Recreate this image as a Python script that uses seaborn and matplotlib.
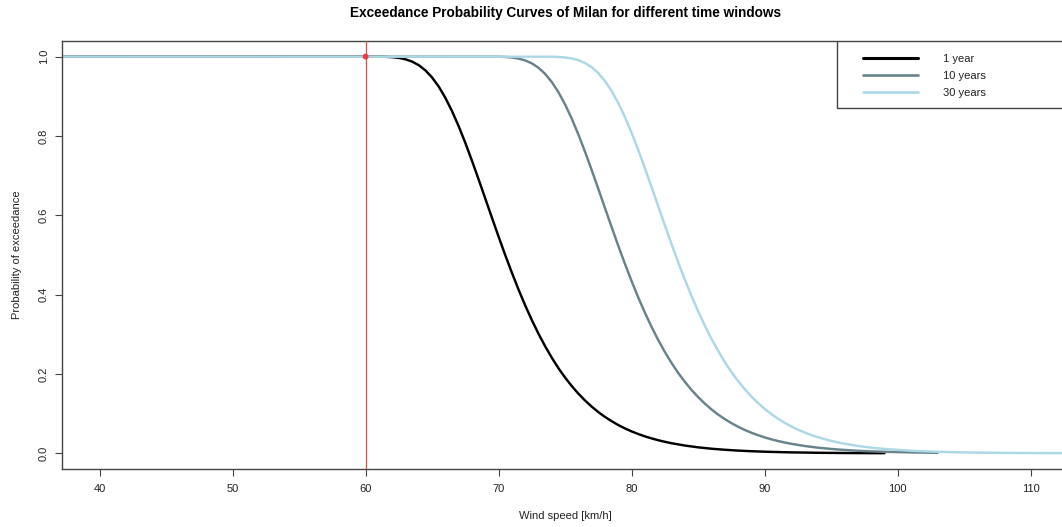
import matplotlib
matplotlib.use("Agg")
import matplotlib.pyplot as plt
import pandas as pd
import seaborn as sns
from matplotlib.patches import Rectangle
from matplotlib.lines import Line2D

# ---------------- data ----------------
speed_1yr = [36, 61, 61.5, 62, 62.5, 63, 63.5, 64, 64.5, 65, 65.5, 66, 66.5, 67, 67.5, 68,
             68.5, 69, 69.5, 70, 70.5, 71, 71.5, 72, 72.5, 73, 73.5, 74, 74.5, 75, 75.5,
             76, 76.5, 77, 77.5, 78, 78.5, 79, 79.5, 80, 80.5, 81, 81.5, 82, 82.5, 83,
             84, 85, 86, 87, 88, 89, 90, 91, 92, 93, 94, 95, 96, 97, 98, 99]
prob_1yr = [1.0, 0.9998, 0.9994, 0.9985, 0.9966, 0.9931, 0.9873, 0.9782, 0.9651, 0.9472,
            0.9242, 0.8957, 0.8622, 0.8241, 0.7821, 0.7370, 0.6899, 0.6418, 0.5935, 0.5457,
            0.4993, 0.4548, 0.4124, 0.3726, 0.3355, 0.3012, 0.2696, 0.2407, 0.2144, 0.1908,
            0.1694, 0.1502, 0.1330, 0.1176, 0.1038, 0.0916, 0.0809, 0.0712, 0.0627, 0.0552,
            0.0486, 0.0427, 0.0376, 0.0330, 0.0290, 0.0255, 0.0196, 0.0151, 0.0116, 0.0090,
            0.0069, 0.0053, 0.0041, 0.0032, 0.0024, 0.0019, 0.0014, 0.0011, 0.0008, 0.0006,
            0.0005, 0.0004]

speed_10yr = [36, 70, 70.5, 71, 71.5, 72, 72.5, 73, 73.5, 74, 74.5, 75, 75.5, 76, 76.5, 77,
              77.5, 78, 78.5, 79, 79.5, 80, 80.5, 81, 81.5, 82, 82.5, 83, 83.5, 84, 84.5,
              85, 85.5, 86, 86.5, 87, 87.5, 88, 88.5, 89, 89.5, 90, 90.5, 91, 91.5,
              92, 93, 94, 95, 96, 97, 98, 99, 100, 101, 102, 103]
prob_10yr = [1.0, 0.9996, 0.9990, 0.9976, 0.9949, 0.9902, 0.9828, 0.9717, 0.9562, 0.9357,
             0.9100, 0.8790, 0.8432, 0.8031, 0.7596, 0.7135, 0.6659, 0.6177, 0.5696, 0.5225,
             0.4771, 0.4336, 0.3925, 0.3541, 0.3184, 0.2854, 0.2552, 0.2276, 0.2026, 0.1801,
             0.1598, 0.1416, 0.1253, 0.1107, 0.0977, 0.0863, 0.0761, 0.0670, 0.0590, 0.0519,
             0.0457, 0.0402, 0.0353, 0.0310, 0.0273, 0.0240, 0.0185, 0.0142, 0.0110, 0.0085,
             0.0065, 0.0050, 0.0039, 0.0030, 0.0023, 0.0018, 0.0013]

speed_30yr = [36, 74, 74.5, 75, 75.5, 76, 76.5, 77, 77.5, 78, 78.5, 79, 79.5, 80, 80.5, 81,
              81.5, 82, 82.5, 83, 83.5, 84, 84.5, 85, 85.5, 86, 86.5, 87, 87.5, 88, 88.5,
              89, 89.5, 90, 90.5, 91, 91.5, 92, 92.5, 93, 93.5, 94, 94.5, 95, 95.5,
              96, 97, 98, 99, 100, 101, 102, 103, 104, 105, 106, 108, 110, 114]
prob_30yr = [1.0, 0.9996, 0.9990, 0.9977, 0.9952, 0.9908, 0.9837, 0.9730, 0.9579, 0.9380,
             0.9128, 0.8823, 0.8470, 0.8073, 0.7641, 0.7182, 0.6707, 0.6225, 0.5744, 0.5271,
             0.4815, 0.4378, 0.3965, 0.3578, 0.3218, 0.2886, 0.2580, 0.2302, 0.2050, 0.1822,
             0.1617, 0.1433, 0.1268, 0.1121, 0.0989, 0.0873, 0.0770, 0.0678, 0.0597, 0.0526,
             0.0462, 0.0407, 0.0358, 0.0314, 0.0276, 0.0243, 0.0187, 0.0144, 0.0111, 0.0086,
             0.0066, 0.0051, 0.0039, 0.0030, 0.0023, 0.0018, 0.0011, 0.0007, 0.0003]

series_labels = ["1 year", "10 years", "30 years"]
series_colors = ["#000000", "#68838C", "#ADD8E6"]

threshold_speed = 60
threshold_prob = 1.0

x_ticks = [40, 50, 60, 70, 80, 90, 100, 110]
y_ticks = [0.0, 0.2, 0.4, 0.6, 0.8, 1.0]

title = "Exceedance Probability Curves of Milan for different time windows"
x_label = "Wind speed [km/h]"
y_label = "Probability of exceedance"

# ---------------- styling ----------------
sns.set_theme(style="white")
plt.rcParams['font.family'] = ['Liberation Sans', 'DejaVu Sans']

W, H = 1062, 527
fig = plt.figure(figsize=(W / 100, H / 100), dpi=100)
fig.patch.set_facecolor("white")

ax_l, ax_r, ax_t, ax_b = 62.3, 1068.0, 40.7, 469.2
ax = fig.add_axes([ax_l / W, (H - ax_b) / H, (ax_r - ax_l) / W, (ax_b - ax_t) / H])
ax.set_facecolor("white")

df = pd.concat([
    pd.DataFrame({"speed": speed_1yr, "prob": prob_1yr, "series": series_labels[0]}),
    pd.DataFrame({"speed": speed_10yr, "prob": prob_10yr, "series": series_labels[1]}),
    pd.DataFrame({"speed": speed_30yr, "prob": prob_30yr, "series": series_labels[2]}),
], ignore_index=True)

sns.lineplot(data=df, x="speed", y="prob", hue="series", hue_order=series_labels,
             palette=dict(zip(series_labels, series_colors)), estimator=None,
             linewidth=1.75, legend=False, ax=ax, zorder=2)

ax.axvline(threshold_speed, color="#F04848", lw=0.9, zorder=3)
sns.scatterplot(x=[threshold_speed], y=[threshold_prob], color="#F03C3C", s=18,
                edgecolor="none", ax=ax, zorder=4)

ax.set_xlim(37.2, 112.8)
ax.set_ylim(-0.04, 1.04)
ax.set_xticks(x_ticks)
ax.set_xticklabels([str(v) for v in x_ticks])
ax.set_yticks(y_ticks)
ax.set_yticklabels([f"{v:.1f}" for v in y_ticks], rotation=90, va="center")

frame_col = "#444444"
for sp in ax.spines.values():
    sp.set_visible(True)
    sp.set_color(frame_col)
    sp.set_linewidth(1.0)

ax.tick_params(axis="both", which="major", direction="out", length=5.0, width=0.8,
               color=frame_col, labelsize=8, labelcolor="#222222",
               bottom=True, left=True, top=False, right=False)
ax.tick_params(axis="x", pad=6)
ax.tick_params(axis="y", pad=4.5)

ax.set_xlabel(x_label, fontsize=8, color="#222222")
ax.set_ylabel(y_label, fontsize=8, color="#222222")
ax.xaxis.set_label_coords(0.5, -0.0987)
ax.yaxis.set_label_coords(-0.0396, 0.5)

fig.text(565 / W, 1 - 13.5 / H, title, ha="center", va="center",
         fontsize=9.8, fontweight="bold", color="#000000")

# legend box (R style, anchored top-right inside the frame)
leg_left = (837 - ax_l) / (ax_r - ax_l)
leg_bottom = (ax_b - 107.7) / (ax_b - ax_t)
ax.add_patch(Rectangle((leg_left, leg_bottom), 1.0 - leg_left, 1.0 - leg_bottom,
                       transform=ax.transAxes, facecolor="white", edgecolor=frame_col,
                       lw=1.0, zorder=5))
handles = [Line2D([], [], color=c, lw=w) for c, w in zip(series_colors, [2.2, 1.9, 1.9])]
leg = ax.legend(handles, series_labels, loc="upper left",
                bbox_to_anchor=((849.2 - ax_l) / (ax_r - ax_l), 1.0),
                borderaxespad=0, borderpad=1.2, frameon=False, fontsize=8,
                handlelength=4.95, handletextpad=2.3, labelspacing=0.62)
leg.set_zorder(6)
for t in leg.get_texts():
    t.set_color("#222222")

fig.savefig("out.png", dpi=100, facecolor="white")
